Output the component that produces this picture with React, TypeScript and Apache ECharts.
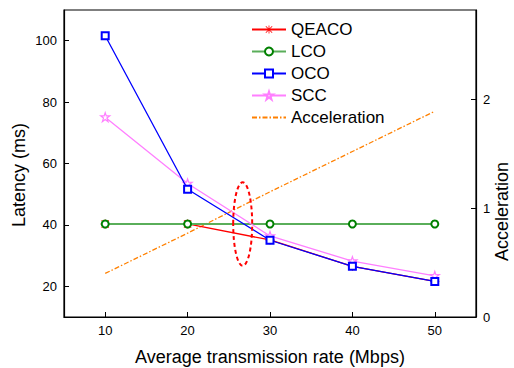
import React, { useEffect, useRef } from "react";
import * as echarts from "echarts";

const rates = [10, 20, 30, 40, 50];
const qeaco = [40.3, 40.3, 35.1, 26.5, 21.6];
const lco = [40.3, 40.3, 40.3, 40.3, 40.3];
const oco = [101.6, 51.6, 35.0, 26.5, 21.6];
const scc = [75.1, 53.5, 36.4, 28.2, 23.4];
const acceleration = [0.4, 0.77, 1.15, 1.52, 1.89];
const xTicks = [10, 20, 30, 40, 50];
const leftTicks = [20, 40, 60, 80, 100];
const rightTicks = [0, 1, 2];

const FONT = "'Liberation Sans', Arial, sans-serif";
const ASTERISK =
  "path://M0 9 L20 9 L20 11 L0 11 Z M9 0 L11 0 L11 20 L9 20 Z M1.3 2.7 L2.7 1.3 L18.7 17.3 L17.3 18.7 Z M17.3 1.3 L18.7 2.7 L2.7 18.7 L1.3 17.3 Z";
const STAR =
  "path://M10 0 L12.4 7 L20 7 L13.8 11.5 L16.2 19 L10 14.3 L3.8 19 L6.2 11.5 L0 7 L7.6 7 Z";

const pairs = (ys: number[]) => rates.map((x, i) => [x, ys[i]]);

export default function App() {
  const ref = useRef<HTMLDivElement>(null);
  useEffect(() => {
    if (!ref.current) return;
    const chart = echarts.init(ref.current, null, { renderer: "svg" });
    const axisLabel = { color: "#000", fontSize: 13, fontFamily: FONT, margin: 7 };
    const nameStyle = {
      fontSize: 18,
      fontFamily: FONT,
      fill: "#000",
      align: "center",
      verticalAlign: "middle",
    };
    chart.setOption({
      animation: false,
      backgroundColor: "#fff",
      textStyle: { fontFamily: FONT },
      grid: {
        left: 64,
        right: 38,
        top: 10,
        bottom: 51,
        outerBoundsMode: "none",
        containLabel: false,
        show: true,
        borderColor: "#000",
        borderWidth: 1.2,
        backgroundColor: "transparent",
      },
      legend: {
        orient: "vertical",
        left: 246,
        top: 16,
        itemWidth: 34,
        itemHeight: 10,
        itemGap: 5,
        textStyle: { fontSize: 17, color: "#000", fontFamily: FONT, lineHeight: 17 },
        data: [
          "QEACO",
          "LCO",
          "OCO",
          "SCC",
          { name: "Acceleration", itemStyle: { opacity: 0 } },
        ],
      },
      xAxis: {
        type: "value",
        min: 5,
        max: 55,
        axisLine: { lineStyle: { color: "#000", width: 1.2 } },
        axisTick: { inside: true, length: 5, customValues: xTicks, lineStyle: { color: "#000" } },
        axisLabel: { ...axisLabel, customValues: xTicks },
        splitLine: { show: false },
      },
      yAxis: [
        {
          type: "value",
          min: 10,
          max: 110,
          axisLine: { show: true, lineStyle: { color: "#000", width: 1.2 } },
          axisTick: { show: true, inside: true, length: 5, customValues: leftTicks, lineStyle: { color: "#000" } },
          axisLabel: { ...axisLabel, customValues: leftTicks },
          splitLine: { show: false },
        },
        {
          type: "value",
          min: 0,
          max: 2.82,
          position: "right",
          axisLine: { show: true, lineStyle: { color: "#000", width: 1.2 } },
          axisTick: { show: true, inside: true, length: 5, customValues: rightTicks, lineStyle: { color: "#000" } },
          axisLabel: { ...axisLabel, customValues: rightTicks },
          splitLine: { show: false },
        },
      ],
      series: [
        {
          name: "QEACO",
          type: "line",
          data: pairs(qeaco),
          symbol: ASTERISK,
          symbolSize: 9,
          itemStyle: { color: "#ff0000" },
          lineStyle: { color: "#ff0000", width: 1.3 },
          z: 2,
        },
        {
          name: "LCO",
          type: "line",
          data: pairs(lco),
          symbol: "emptyCircle",
          symbolSize: 7,
          itemStyle: { color: "#008000", borderWidth: 1.3 },
          lineStyle: { color: "#5aae5a", width: 2 },
          z: 3,
        },
        {
          name: "OCO",
          type: "line",
          data: pairs(oco),
          symbol: "emptyRect",
          symbolSize: 7,
          itemStyle: { color: "#0000ff", borderWidth: 1.3 },
          lineStyle: { color: "#0000ff", width: 1.3 },
          z: 4,
        },
        {
          name: "SCC",
          type: "line",
          data: pairs(scc),
          symbol: STAR,
          symbolSize: 9,
          itemStyle: { color: "#ffffff", borderColor: "#ff7fff", borderWidth: 1.2 },
          lineStyle: { color: "#ff7fff", width: 1.3 },
          z: 3,
        },
        {
          name: "Acceleration",
          type: "line",
          yAxisIndex: 1,
          data: pairs(acceleration),
          symbol: "none",
          itemStyle: { color: "#ff8000" },
          lineStyle: { color: "#ff8000", width: 1.3, type: [5, 2, 1.5, 2] },
          z: 1,
        },
      ],
      graphic: [
        {
          type: "ellipse",
          shape: { cx: 242.7, cy: 224, rx: 9.5, ry: 41.7 },
          style: { fill: "none", stroke: "#ff0000", lineWidth: 2, lineDash: [4, 3] },
          z: 10,
        },
        {
          type: "text",
          x: 19,
          y: 175,
          rotation: Math.PI / 2,
          style: { ...nameStyle, text: "Latency (ms)" },
        },
        {
          type: "text",
          x: 501.5,
          y: 211.5,
          rotation: Math.PI / 2,
          style: { ...nameStyle, text: "Acceleration" },
        },
        {
          type: "text",
          x: 270,
          y: 357,
          style: { ...nameStyle, text: "Average transmission rate (Mbps)" },
        },
      ],
    });
    return () => chart.dispose();
  }, []);
  return (
    <div
      ref={ref}
      style={{ position: "fixed", left: 0, top: 0, width: 514, height: 368 }}
    />
  );
}
